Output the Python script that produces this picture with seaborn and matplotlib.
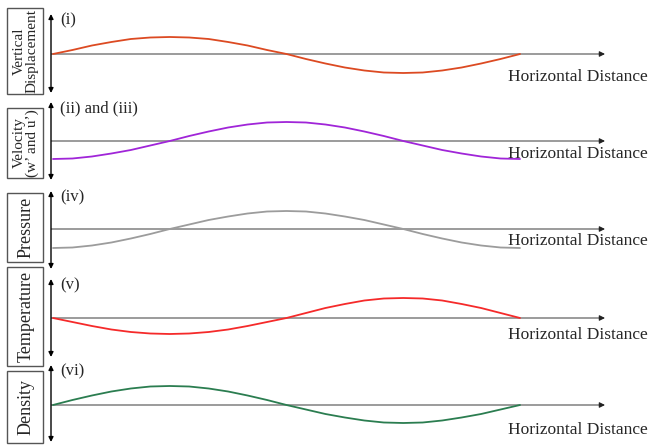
import matplotlib
matplotlib.use("Agg")
import matplotlib.pyplot as plt
from matplotlib.patches import Rectangle
import seaborn as sns

# Positions along one wavelength (fraction of the wave, in 24ths)
phase = [k / 24 for k in range(25)]

# Relative perturbation of each quantity along the wave
displacement = [0, 4, 8.5, 12, 15, 16.5, 17, 16.5, 15, 12, 8.5, 4, 0,
                -5, -9.5, -13.5, -16.5, -18.5, -19, -18.5, -16.5, -13.5, -9.5, -5, 0]
velocity = [-18, -17.5, -15.5, -12.5, -9, -4.5, 0, 5, 9.5, 13.5, 16.5, 18.5, 19,
            18.5, 16.5, 13.5, 9.5, 5, 0, -4.5, -9, -12.5, -15.5, -17.5, -18]
pressure = [-19, -18.5, -16.5, -13.5, -9.5, -5, 0, 4.5, 9, 12.5, 15.5, 17.5, 18,
            17.5, 15.5, 12.5, 9, 4.5, 0, -5, -9.5, -13.5, -16.5, -18.5, -19]
temperature = [0, -4, -8, -11.5, -14, -15.5, -16, -15.5, -14, -11.5, -8, -4, 0,
               5, 10, 14, 17.5, 19.5, 20, 19.5, 17.5, 14, 10, 5, 0]
density = [0, 5, 9.5, 13.5, 16.5, 18.5, 19, 18.5, 16.5, 13.5, 9.5, 5, 0,
           -4.5, -9, -12.5, -15.5, -17.5, -18, -17.5, -15.5, -12.5, -9, -4.5, 0]

series = [displacement, velocity, pressure, temperature, density]
panel_tags = ["(i)", "(ii) and (iii)", "(iv)", "(v)", "(vi)"]
quantity_names = ["Vertical\nDisplacement", "Velocity\n(w\u2019 and u\u2019)",
                  "Pressure", "Temperature", "Density"]
axis_label = "Horizontal Distance"

colors = ["#dc4a22", "#a025d8", "#9c9c9c", "#f52a2a", "#2b7d50"]

sns.set_style("white")
plt.rcParams["font.family"] = ["Liberation Serif", "DejaVu Serif"]

W, H = 650, 445
fig = plt.figure(figsize=(W / 100, H / 100), dpi=100)
fig.patch.set_facecolor("white")


def fx(px):
    return px / W


def fy(py):
    return 1 - py / H


# panel layout in pixels: (top, bottom, baseline)
panels = [(14, 93, 54), (102, 180, 141), (191, 269, 229), (279, 357, 318), (365, 442, 405)]
label_drop = [23, 13, 12, 17, 25]
boxes = [(7, 8, 43, 94), (7, 108, 43, 178), (7, 193, 43, 262), (7, 267, 43, 366), (7, 371, 43, 443)]
box_fs = [11, 11, 13, 13, 13]

x_left_px, x0_px, x1_px, x_right_px = 51, 53, 520, 650
scale = x1_px - x0_px
xmin = -(x0_px - x_left_px) / scale
xmax = (x_right_px - x0_px) / scale
arrow_end = (605 - x0_px) / scale

for i, (top, bot, base) in enumerate(panels):
    ax = fig.add_axes([fx(x_left_px), fy(bot), fx(x_right_px - x_left_px), (bot - top) / H])
    ax.set_xlim(xmin, xmax)
    ax.set_ylim(-(bot - base), base - top)
    ax.axis("off")

    # horizontal axis with arrow head
    ax.plot([xmin, arrow_end - 0.01], [0, 0], color="#8a8a8a", lw=1.2, solid_capstyle="butt")
    ax.annotate("", xy=(arrow_end, 0), xytext=(arrow_end - 0.012, 0),
                arrowprops=dict(arrowstyle="-|>", color="#222222", lw=0.8,
                                mutation_scale=8, shrinkA=0, shrinkB=0))

    # vertical double-headed axis
    ax.annotate("", xy=(0, 1), xytext=(0, 0), xycoords="axes fraction",
                textcoords="axes fraction",
                arrowprops=dict(arrowstyle="<|-|>", color="black", lw=1.0,
                                mutation_scale=7, shrinkA=0, shrinkB=0))

    sns.lineplot(x=phase, y=series[i], ax=ax, color=colors[i], lw=1.3)

    fig.text(fx(60), fy(top + 6), panel_tags[i], fontsize=12, ha="left", va="center")
    fig.text(fx(508), fy(base + label_drop[i]), axis_label,
             fontsize=12.5, ha="left", va="center")

    x0, y0, x1, y1 = boxes[i]
    fig.patches.append(Rectangle((fx(x0), fy(y1)), fx(x1 - x0), (y1 - y0) / H,
                                 transform=fig.transFigure, fill=False,
                                 edgecolor="#555555", lw=1.0))
    fig.text(fx((x0 + x1) / 2 + 1), fy((y0 + y1) / 2), quantity_names[i],
             fontsize=box_fs[i], rotation=90, ha="center", va="center",
             linespacing=1.0, multialignment="center")

fig.savefig("out.png", dpi=100, facecolor="white")
